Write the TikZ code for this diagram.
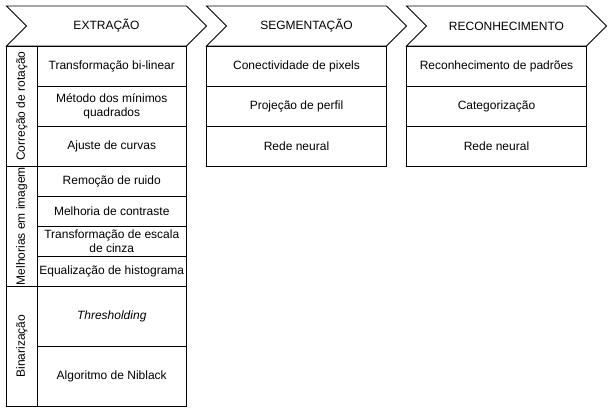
\documentclass[tikz,border=0pt]{standalone}
\usepackage{fontspec}
\setmainfont{Liberation Sans}
\usetikzlibrary{positioning}

\begin{document}
\begin{tikzpicture}[x=1pt,y=-1pt,font=\fontsize{12}{14}\selectfont,line width=0.9pt,
  cell/.style={draw,inner sep=0pt,align=center,minimum width=149pt},
  wcell/.style={draw,inner sep=0pt,align=center,minimum width=180pt,minimum height=40pt},
  grp/.style={draw,inner sep=0pt,rotate=90,minimum width=120pt,minimum height=31pt},
  chev/.style={draw,fill=white}]
\useasboundingbox[fill=white] (0,0) rectangle (612,412);
% etapas
\draw[chev] (6.5,6) -- (186.5,6) -- (206.5,26) -- (186.5,46) -- (6.5,46) -- (26.5,26) -- cycle;
\draw[chev] (206.5,6) -- (386.5,6) -- (406.5,26) -- (386.5,46) -- (206.5,46) -- (226.5,26) -- cycle;
\draw[chev] (406.5,6) -- (586.5,6) -- (606.5,26) -- (586.5,46) -- (406.5,46) -- (426.5,26) -- cycle;
\path (106.5,26) node(extr) {EXTRAÇÃO};
\path (306.5,26) node(segm) {SEGMENTAÇÃO};
\path (506.5,26) node(reco) {RECONHECIMENTO};
% extracao
\path (21.75,106) node(grp_rot) [grp] {Correção de rotação};
\path (21.75,226) node(grp_mel) [grp] {Melhorias em imagem};
\path (21.75,346) node(grp_bin) [grp] {Binarização};
\path (111.75,66) node(rot_0) [cell,minimum height=40pt] {Transformação bi-linear};
\path (111.75,106) node(rot_1) [cell,minimum height=40pt] {Método dos mínimos\\quadrados};
\path (111.75,146) node(rot_2) [cell,minimum height=40pt] {Ajuste de curvas};
\path (111.75,181) node(mel_0) [cell,minimum height=30pt] {Remoção de ruido};
\path (111.75,211) node(mel_1) [cell,minimum height=30pt] {Melhoria de contraste};
\path (111.75,241) node(mel_2) [cell,minimum height=30pt] {Transformação de escala\\de cinza};
\path (111.75,271) node(mel_3) [cell,minimum height=30pt] {Equalização de histograma};
\path (111.75,316) node(bin_0) [cell,minimum height=60pt] {\itshape Thresholding};
\path (111.75,376) node(bin_1) [cell,minimum height=60pt] {Algoritmo de Niblack};
% segmentacao
\path (296.5,66) node(seg_0) [wcell] {Conectividade de pixels};
\path (296.5,106) node(seg_1) [wcell] {Projeção de perfil};
\path (296.5,146) node(seg_2) [wcell] {Rede neural};
% reconhecimento
\path (496.5,66) node(rec_0) [wcell] {Reconhecimento de padrões};
\path (496.5,106) node(rec_1) [wcell] {Categorização};
\path (496.5,146) node(rec_2) [wcell] {Rede neural};
\end{tikzpicture}
\end{document}
